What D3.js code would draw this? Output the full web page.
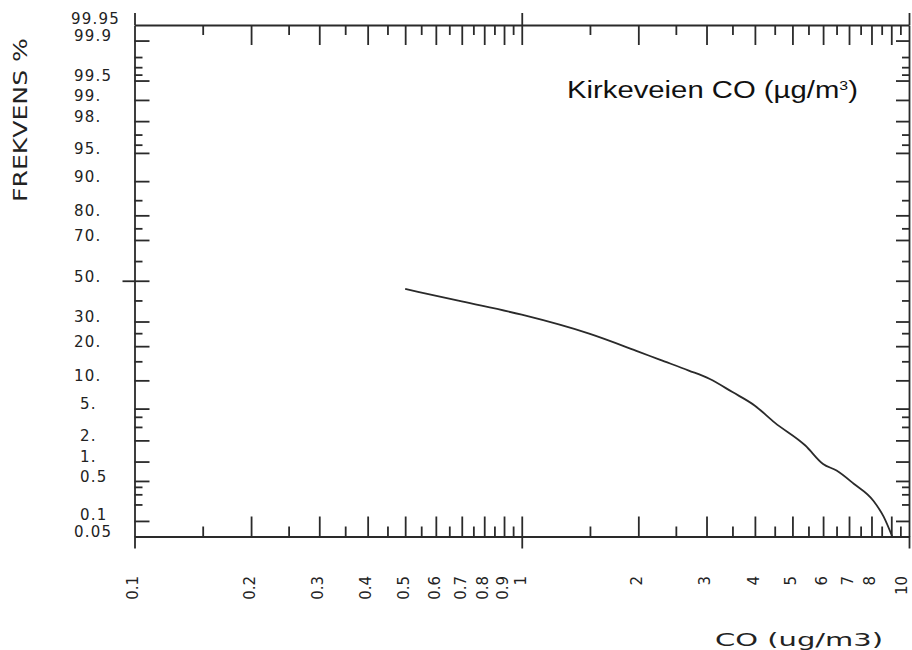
<!DOCTYPE html>
<html>
<head>
<meta charset="utf-8">
<script src="https://cdnjs.cloudflare.com/ajax/libs/d3/7.8.5/d3.min.js"></script>
<style>
  body { margin: 0; background: #fff; }
  svg { display: block; }
  .axis path, .axis line { stroke: #2a2a2a; stroke-width: 1.8; }
  .axis text { fill: #222; font-family: "DejaVu Sans", sans-serif; }
</style>
</head>
<body>
<script>
// Data
// =======================================
// CO concentration (ug/m3) and frequency of exceedance (%)
var coValues = [0.5, 0.7, 1.0, 1.5, 2.0, 2.27, 2.7, 3.06, 3.5, 4.0, 4.5, 5.4, 6.0, 6.5, 7.2, 8.1, 8.6, 9.05];
var freqValues = [45.8, 39.5, 33.1, 24.7, 18.1, 15.5, 12.4, 10.3, 7.6, 5.4, 3.4, 1.7, 0.92, 0.73, 0.45, 0.23, 0.12, 0.05];

// x axis (log) ticks
var xMajorTicks = [0.2, 0.3, 0.4, 0.5, 0.6, 0.7, 0.8, 0.9, 1, 2, 3, 4, 5, 6, 7, 8, 9];
var xMinorTicks = [0.15, 0.25, 0.35, 0.45, 0.55, 0.65, 0.75, 0.85, 0.95,
                   1.5, 2.5, 3.5, 4.5, 5.5, 6.5, 7.5, 8.5, 9.5];
var xDecades = [0.1, 1, 10];
var xLabelValues = [0.1, 0.2, 0.3, 0.4, 0.5, 0.6, 0.7, 0.8, 0.9, 1, 2, 3, 4, 5, 6, 7, 8, 10];

// y axis (probability) ticks
var yMajorTicks = [99.9, 99.5, 99, 98, 95, 90, 80, 70, 50, 30, 20, 10, 5, 2, 1, 0.5, 0.1];
var yMinorTicks = [99.8, 99.7, 99.6, 97, 96, 85, 75, 60, 40, 25, 15, 4, 3, 0.4, 0.3, 0.2];
var yLabelValues = [99.95, 99.9, 99.5, 99, 98, 95, 90, 80, 70, 50, 30, 20, 10, 5, 2, 1, 0.5, 0.1, 0.05];
var yLabels = ["99.95", "99.9", "99.5", "99.", "98.", "95.", "90.", "80.", "70.", "50.",
               "30.", "20.", "10.", "5.", "2.", "1.", "0.5", "0.1", "0.05"];

// inverse normal cdf (Acklam)
function probit(p) {
  var a = [-3.969683028665376e+01, 2.209460984245205e+02, -2.759285104469687e+02,
           1.383577518672690e+02, -3.066479806614716e+01, 2.506628277459239e+00];
  var b = [-5.447609879822406e+01, 1.615858368580409e+02, -1.556989798598866e+02,
           6.680131188771972e+01, -1.328068155288572e+01];
  var c = [-7.784894002430293e-03, -3.223964580411365e-01, -2.400758277161838e+00,
           -2.549671010915027e+00, 4.374664141464968e+00, 2.938163982698783e+00];
  var d = [7.784695709041462e-03, 3.224671290700398e-01, 2.445134137142996e+00,
           3.754408661907416e+00];
  var plow = 0.02425, q, r;
  if (p < plow) {
    q = Math.sqrt(-2 * Math.log(p));
    return (((((c[0]*q+c[1])*q+c[2])*q+c[3])*q+c[4])*q+c[5]) / ((((d[0]*q+d[1])*q+d[2])*q+d[3])*q+1);
  }
  if (p > 1 - plow) {
    q = Math.sqrt(-2 * Math.log(1 - p));
    return -(((((c[0]*q+c[1])*q+c[2])*q+c[3])*q+c[4])*q+c[5]) / ((((d[0]*q+d[1])*q+d[2])*q+d[3])*q+1);
  }
  q = p - 0.5;
  r = q * q;
  return (((((a[0]*r+a[1])*r+a[2])*r+a[3])*r+a[4])*r+a[5])*q / (((((b[0]*r+b[1])*r+b[2])*r+b[3])*r+b[4])*r+1);
}

function drawChart() {
  var svgWidth = 912;
  var svgHeight = 650;

  // plot frame in page pixels
  var left = 134.5, right = 909, top = 25, bottom = 536.5;

  var svg = d3.select("body")
    .append("svg")
    .attr("width", svgWidth)
    .attr("height", svgHeight);

  // Scales
  // =================================
  var xScale = d3.scaleLog()
    .domain([0.1, 10])
    .range([left, right]);

  var zScale = d3.scaleLinear()
    .domain([probit(0.0005), probit(0.9995)])
    .range([bottom, top]);

  var yScale = function(pct) { return zScale(probit(pct / 100)); };

  // Bottom axis: ticks point up into the plot
  // =================================
  svg.append("g").attr("class", "axis")
    .attr("transform", `translate(0, ${bottom})`)
    .call(d3.axisTop(xScale).tickValues(xMajorTicks).tickSize(20).tickSizeOuter(0).tickFormat(""));

  svg.append("g").attr("class", "axis nodomain")
    .attr("transform", `translate(0, ${bottom})`)
    .call(d3.axisTop(xScale).tickValues(xMinorTicks).tickSize(10).tickSizeOuter(0).tickFormat(""));

  svg.append("g").attr("class", "axis nodomain")
    .attr("transform", `translate(0, ${bottom})`)
    .call(d3.axisBottom(xScale).tickValues(xDecades).tickSize(12).tickSizeOuter(0).tickFormat(""));

  // rotated x labels
  var xLabelAxis = svg.append("g").attr("class", "axis nodomain")
    .attr("transform", `translate(0, ${bottom})`)
    .call(d3.axisBottom(xScale).tickValues(xLabelValues).tickSize(0).tickFormat(d3.format("")));

  xLabelAxis.selectAll("text")
    .attr("transform", "rotate(-90)")
    .attr("text-anchor", "end")
    .attr("x", -(576 - bottom))
    .attr("y", d => d === 10 ? -8 : -2)
    .attr("dy", "0.35em")
    .attr("font-size", "15px");

  // Top axis: ticks point down into the plot
  // =================================
  svg.append("g").attr("class", "axis")
    .attr("transform", `translate(0, ${top})`)
    .call(d3.axisBottom(xScale).tickValues(xMajorTicks).tickSize(20).tickSizeOuter(0).tickFormat(""));

  svg.append("g").attr("class", "axis nodomain")
    .attr("transform", `translate(0, ${top})`)
    .call(d3.axisBottom(xScale).tickValues(xMinorTicks).tickSize(10).tickSizeOuter(0).tickFormat(""));

  svg.append("g").attr("class", "axis nodomain")
    .attr("transform", `translate(0, ${top})`)
    .call(d3.axisTop(xScale).tickValues(xDecades).tickSize(12).tickSizeOuter(0).tickFormat(""));

  // Left axis: ticks point right into the plot
  // =================================
  svg.append("g").attr("class", "axis")
    .attr("transform", `translate(${left}, 0)`)
    .call(d3.axisRight(zScale).tickValues(yMajorTicks.map(v => probit(v / 100))).tickSize(15).tickSizeOuter(0).tickFormat(""));

  svg.append("g").attr("class", "axis nodomain")
    .attr("transform", `translate(${left}, 0)`)
    .call(d3.axisRight(zScale).tickValues(yMinorTicks.map(v => probit(v / 100))).tickSize(8).tickSizeOuter(0).tickFormat(""));

  svg.append("g").attr("class", "axis nodomain")
    .attr("transform", `translate(${left}, 0)`)
    .call(d3.axisLeft(zScale).tickValues([0]).tickSize(12).tickSizeOuter(0).tickFormat(""));

  // y labels
  var yLabelAxis = svg.append("g").attr("class", "axis nodomain")
    .attr("transform", `translate(${left}, 0)`)
    .call(d3.axisLeft(zScale)
      .tickValues(yLabelValues.map(v => probit(v / 100)))
      .tickSize(0)
      .tickFormat((d, i) => yLabels[i]));

  yLabelAxis.selectAll("text")
    .attr("text-anchor", "start")
    .attr("x", function(d, i) {
      var v = yLabelValues[i];
      var lx = yLabels[i].length >= 5 ? 71 : (v < 10 && v > 0.05 ? 80 : 74);
      return lx - left;
    })
    .attr("y", function(d, i) {
      var v = yLabelValues[i];
      return v === 99.95 ? -7 : (v === 0.1 ? -7 : -5);
    })
    .attr("dy", "0.35em")
    .attr("font-size", "15px")
    .attr("letter-spacing", "1.2px");

  // Right axis: ticks point left into the plot
  // =================================
  svg.append("g").attr("class", "axis")
    .attr("transform", `translate(${right}, 0)`)
    .call(d3.axisLeft(zScale).tickValues(yMajorTicks.map(v => probit(v / 100))).tickSize(13).tickSizeOuter(0).tickFormat(""));

  svg.append("g").attr("class", "axis nodomain")
    .attr("transform", `translate(${right}, 0)`)
    .call(d3.axisLeft(zScale).tickValues(yMinorTicks.map(v => probit(v / 100))).tickSize(7).tickSizeOuter(0).tickFormat(""));

  svg.selectAll(".nodomain .domain").remove();

  // Curve
  // =================================
  var series = coValues.map((v, i) => ({ co: v, freq: freqValues[i] }));

  var line = d3.line()
    .curve(d3.curveMonotoneX)
    .x(d => xScale(d.co))
    .y(d => yScale(d.freq));

  svg.append("path")
    .datum(series)
    .attr("fill", "none")
    .attr("stroke", "#2a2a2a")
    .attr("stroke-width", 1.8)
    .attr("d", line);

  // Titles
  // =================================
  var title = svg.append("text")
    .attr("transform", "translate(567, 98) scale(1.22, 1)")
    .attr("font-family", "'Liberation Sans', Arial, sans-serif")
    .attr("font-size", "24px")
    .attr("fill", "#111");
  title.append("tspan").text("Kirkeveien CO (µg/m");
  title.append("tspan").attr("font-size", "13px").attr("dy", -8).text("3");
  title.append("tspan").attr("dy", 8).text(")");

  svg.append("text")
    .attr("transform", "translate(27, 120) rotate(-90)")
    .attr("text-anchor", "middle")
    .attr("font-family", "'DejaVu Sans', sans-serif")
    .attr("font-size", "19px")
    .attr("fill", "#222")
    .attr("textLength", 164)
    .attr("lengthAdjust", "spacingAndGlyphs")
    .text("FREKVENS %");

  svg.append("text")
    .attr("x", 715)
    .attr("y", 646)
    .attr("font-family", "'DejaVu Sans', sans-serif")
    .attr("font-size", "17px")
    .attr("fill", "#222")
    .attr("textLength", 168)
    .attr("lengthAdjust", "spacingAndGlyphs")
    .text("CO  (ug/m3)");
}

drawChart();
</script>
</body>
</html>
